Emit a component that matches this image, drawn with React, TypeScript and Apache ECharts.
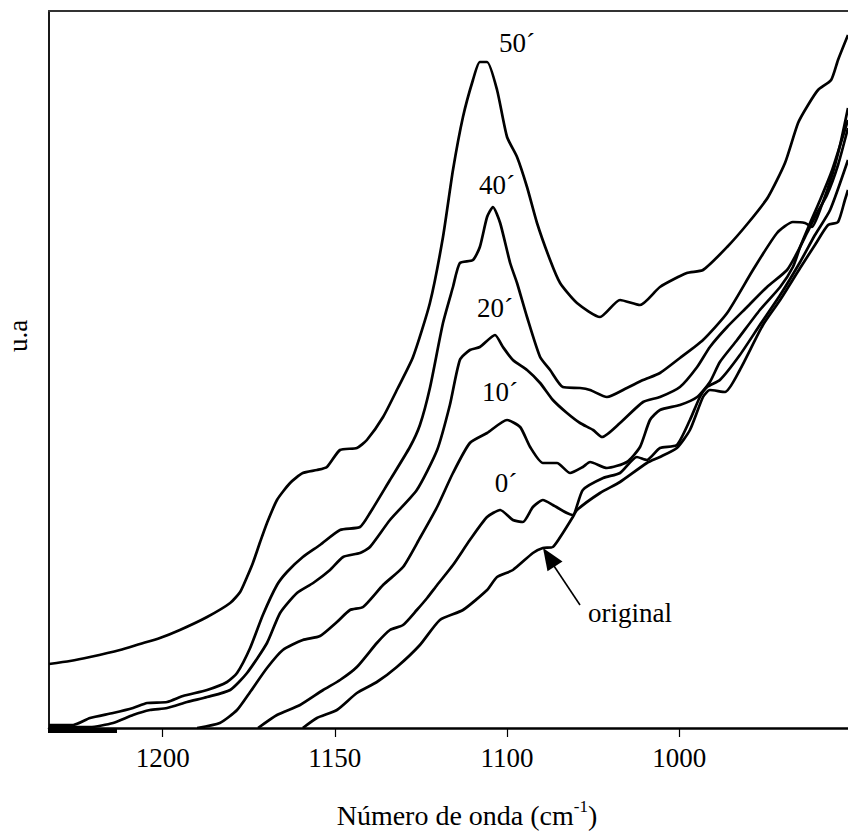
import { useEffect, useRef } from 'react';
import * as echarts from 'echarts';

// Tick positions on the (nominal, uniformly spaced) wavenumber axis and the labels printed there
const TICK_VALUES = [1200, 1150, 1100, 1050];
const TICK_LABELS = ['1200', '1150', '1100', '1000'];

const X_MIN = 1001;
const X_MAX = 1233;
const Y_MIN = 0;
const Y_MAX = 717;

const SERIES_NAMES = ['50´', '40´', '20´', '10´', '0´', 'original'];

const S50: [number, number][] = [
  [1233.0, 64], [1226.9, 67], [1221.1, 71], [1212.4, 78], [1206.6, 84], [1200.8, 90], [1195.0, 98],
  [1187.1, 111], [1180.4, 125], [1177.5, 136], [1175.5, 151], [1173.8, 165], [1171.7, 186], [1169.7, 205],
  [1166.8, 228], [1163.0, 245], [1159.3, 255], [1155.2, 258], [1152.3, 261], [1148.5, 278], [1143.6, 280],
  [1140.7, 288], [1136.0, 311], [1131.7, 340], [1127.3, 371], [1122.4, 425], [1118.6, 491], [1115.7, 558],
  [1112.8, 611], [1109.9, 648], [1107.9, 666], [1105.8, 666], [1102.9, 638], [1100.0, 591], [1097.1, 571],
  [1094.2, 541], [1091.3, 505], [1087.5, 468], [1084.6, 445], [1079.7, 425], [1073.0, 411], [1067.2, 428],
  [1061.4, 423], [1055.6, 441], [1047.8, 455], [1043.1, 458], [1036.1, 481], [1030.0, 505], [1024.2, 531],
  [1019.3, 565], [1015.5, 605], [1012.6, 623], [1009.7, 638], [1005.9, 648], [1003.9, 668], [1001.0, 693],
];

const S40: [number, number][] = [
  [1233.0, 3], [1226.0, 3], [1221.1, 10], [1214.4, 15], [1208.6, 20], [1204.5, 25], [1198.7, 26],
  [1194.1, 32], [1187.1, 38], [1181.3, 46], [1178.4, 55], [1174.6, 80], [1170.9, 113], [1166.8, 143],
  [1163.9, 156], [1159.3, 171], [1154.3, 183], [1148.5, 198], [1142.7, 201], [1139.8, 215], [1134.0, 248],
  [1128.2, 281], [1125.3, 303], [1122.4, 340], [1118.6, 405], [1115.7, 441], [1113.7, 465], [1109.9, 468],
  [1107.9, 481], [1105.8, 511], [1104.1, 521], [1102.0, 505], [1099.1, 465], [1097.1, 445], [1094.2, 411],
  [1090.4, 371], [1087.5, 358], [1083.8, 341], [1078.8, 340], [1075.9, 338], [1071.0, 331], [1065.2, 340],
  [1060.5, 348], [1055.6, 355], [1049.8, 370], [1043.1, 388], [1036.1, 415], [1028.6, 458], [1021.6, 495],
  [1017.0, 506], [1013.5, 505], [1011.5, 501], [1008.6, 523], [1005.6, 553], [1003.3, 583], [1001.0, 620],
];

const S20: [number, number][] = [
  [1233.0, 1], [1221.1, 1], [1214.4, 5], [1208.6, 13], [1203.7, 18], [1198.7, 20], [1192.9, 26],
  [1187.1, 31], [1180.4, 38], [1175.5, 55], [1169.7, 85], [1165.9, 115], [1161.0, 135], [1156.3, 145],
  [1151.4, 158], [1147.6, 171], [1142.7, 175], [1139.8, 181], [1134.0, 208], [1126.2, 238], [1120.3, 278],
  [1116.6, 323], [1113.7, 368], [1110.8, 378], [1107.9, 381], [1103.5, 393], [1101.2, 381], [1098.3, 368],
  [1094.2, 358], [1090.4, 345], [1086.7, 328], [1082.6, 315], [1078.8, 305], [1075.0, 298], [1072.4, 291],
  [1067.2, 305], [1060.5, 326], [1055.6, 331], [1049.8, 341], [1044.8, 361], [1041.1, 381], [1036.1, 401],
  [1030.3, 421], [1024.5, 441], [1018.7, 458], [1015.8, 475], [1012.9, 495], [1010.0, 515], [1007.1, 533],
  [1003.9, 563], [1001.0, 600],
];

const S10: [number, number][] = [
  [1190.0, 0], [1183.4, 5], [1178.4, 18], [1174.6, 36], [1169.7, 60], [1165.1, 78], [1159.3, 88],
  [1154.3, 92], [1149.4, 106], [1145.6, 118], [1141.8, 121], [1136.0, 143], [1130.2, 161], [1125.3, 190],
  [1120.3, 221], [1115.7, 255], [1110.8, 285], [1105.8, 295], [1100.0, 308], [1096.2, 301], [1093.3, 281],
  [1089.6, 265], [1085.5, 265], [1081.7, 255], [1078.0, 261], [1075.9, 266], [1071.0, 260], [1065.2, 266],
  [1061.4, 281], [1058.5, 308], [1055.6, 318], [1049.8, 323], [1044.8, 331], [1041.1, 346], [1038.2, 366],
  [1033.2, 388], [1026.6, 418], [1020.7, 441], [1017.0, 461], [1014.9, 481], [1012.0, 505], [1009.1, 528],
  [1005.6, 558], [1001.0, 608],
];

const S0: [number, number][] = [
  [1172.3, 0], [1166.8, 13], [1160.1, 23], [1153.4, 38], [1148.5, 48], [1143.6, 61], [1137.8, 85],
  [1134.0, 98], [1130.2, 103], [1126.2, 118], [1123.2, 130], [1120.3, 143], [1115.7, 163], [1110.8, 188],
  [1105.8, 211], [1102.0, 218], [1098.3, 208], [1095.4, 206], [1092.5, 221], [1089.6, 228], [1086.7, 223],
  [1082.6, 215], [1080.9, 213], [1078.0, 238], [1072.1, 250], [1067.2, 255], [1062.3, 271], [1059.4, 268],
  [1055.6, 280], [1050.7, 283], [1046.9, 308], [1044.0, 331], [1041.9, 341], [1038.2, 348], [1032.4, 373],
  [1026.6, 403], [1020.7, 433], [1014.9, 466], [1010.6, 493], [1006.2, 518], [1001.0, 568],
];

const SORIG: [number, number][] = [
  [1159.3, 0], [1155.2, 10], [1149.4, 18], [1143.6, 35], [1137.8, 46], [1132.0, 61], [1125.3, 83],
  [1119.5, 108], [1112.8, 118], [1105.8, 138], [1102.9, 151], [1098.3, 158], [1092.5, 175], [1089.6, 180],
  [1086.7, 181], [1083.8, 195], [1080.9, 211], [1079.7, 218], [1073.0, 235], [1067.2, 246], [1059.4, 265],
  [1055.6, 271], [1050.7, 280], [1046.9, 298], [1043.1, 331], [1041.1, 338], [1036.7, 336], [1032.4, 358],
  [1025.7, 403], [1020.7, 428], [1014.9, 460], [1010.6, 483], [1006.8, 503], [1003.9, 506], [1001.9, 528],
  [1001.0, 538],
];

const SERIES_DATA = [S50, S40, S20, S10, S0, SORIG];

const FONT = "'Liberation Serif', 'Times New Roman', Times, serif";

export default function App() {
  const ref = useRef<HTMLDivElement>(null);

  useEffect(() => {
    if (!ref.current) return;
    const chart = echarts.init(ref.current, null, { renderer: 'svg' });

    const txt = (text: string, x: number, y: number, extra: any = {}) => ({
      type: 'text',
      x,
      y,
      silent: true,
      z: 10,
      ...extra,
      style: {
        text,
        fontSize: 27,
        fontFamily: FONT,
        fill: '#000',
        align: 'center',
        verticalAlign: 'middle',
        textAlign: 'center',
        textVerticalAlign: 'middle',
      },
    });

    chart.setOption({
      animation: false,
      backgroundColor: '#ffffff',
      grid: { left: 49, right: 0, top: 11, bottom: 104, containLabel: false },
      xAxis: [
        {
          type: 'value',
          min: X_MIN,
          max: X_MAX,
          inverse: true,
          position: 'bottom',
          axisLine: { show: true, onZero: false, lineStyle: { color: '#000', width: 2.5 } },
          axisTick: {
            show: true,
            customValues: TICK_VALUES,
            length: 9,
            inside: false,
            lineStyle: { color: '#000', width: 1.2 },
          },
          axisLabel: {
            show: true,
            customValues: TICK_VALUES,
            formatter: (v: number) => {
              const i = TICK_VALUES.indexOf(Math.round(v));
              return i >= 0 ? TICK_LABELS[i] : '';
            },
            fontSize: 27,
            fontFamily: FONT,
            color: '#000',
            margin: 16,
          },
          splitLine: { show: false },
        },
        {
          type: 'value',
          min: X_MIN,
          max: X_MAX,
          inverse: true,
          position: 'top',
          axisLine: { show: true, onZero: false, lineStyle: { color: '#333', width: 2 } },
          axisTick: { show: false },
          axisLabel: { show: false },
          splitLine: { show: false },
        },
      ],
      yAxis: {
        type: 'value',
        min: Y_MIN,
        max: Y_MAX,
        axisLine: { show: true, onZero: false, lineStyle: { color: '#000', width: 1.8 } },
        axisTick: { show: false },
        axisLabel: { show: false },
        splitLine: { show: false },
      },
      series: SERIES_DATA.map((d, i) => ({
        type: 'line',
        name: SERIES_NAMES[i],
        data: d,
        xAxisIndex: 0,
        showSymbol: false,
        symbol: 'none',
        smooth: 0.2,
        silent: true,
        lineStyle: { color: '#000', width: 2.7 },
        z: 3,
      })),
      graphic: [
        txt('50´', 517, 43),
        txt('40´', 497, 185),
        txt('20´', 495, 308),
        txt('10´', 500, 392),
        txt('0´', 506, 483),
        txt('original', 630, 613),
        txt('u.a', 18, 336, { rotation: Math.PI / 2 }),
        {
          type: 'text',
          x: 467,
          y: 815,
          silent: true,
          style: {
            text: '{a|Número de onda (cm}{s|-1}{a|)}',
            align: 'center',
            verticalAlign: 'middle',
            textAlign: 'center',
            textVerticalAlign: 'middle',
            rich: {
              a: { fontSize: 28, fontFamily: FONT, fill: '#000', lineHeight: 34 },
              s: { fontSize: 17, fontFamily: FONT, fill: '#000', verticalAlign: 'top', lineHeight: 20 },
            },
          },
        },
        {
          type: 'line',
          silent: true,
          shape: { x1: 580, y1: 605, x2: 554, y2: 566 },
          style: { stroke: '#000', lineWidth: 1.6 },
        },
        {
          type: 'polygon',
          silent: true,
          shape: { points: [[543, 548], [562.5, 561.5], [547.5, 571.3]] },
          style: { fill: '#000' },
        },
        {
          type: 'rect',
          silent: true,
          shape: { x: 48, y: 729, width: 69, height: 4 },
          style: { fill: '#000' },
        },
      ],
    });

    return () => chart.dispose();
  }, []);

  return (
    <div
      ref={ref}
      style={{ position: 'fixed', left: 0, top: 0, width: 848, height: 832, background: '#fff' }}
    />
  );
}
